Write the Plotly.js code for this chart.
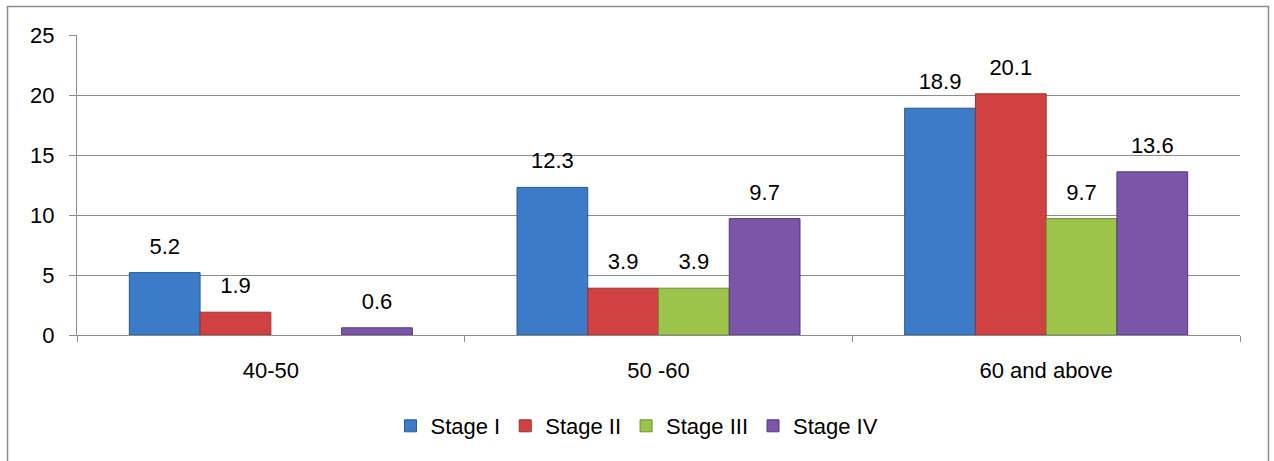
<!DOCTYPE html>
<html>
<head>
<meta charset="utf-8">
<script src="https://cdn.plot.ly/plotly-3.0.1.min.js"></script>
<style>
html,body{margin:0;padding:0;background:#fff;}
#chart{width:1274px;height:461px;}
</style>
</head>
<body>
<div id="chart"></div>
<script>
const categories = ["40-50", "50 -60", "60 and above"];
const seriesNames = ["Stage I", "Stage II", "Stage III", "Stage IV"];
const stage1 = [5.2, 12.3, 18.9];
const stage2 = [1.9, 3.9, 20.1];
const stage3 = [null, 3.9, 9.7];
const stage4 = [0.6, 9.7, 13.6];
const yTicks = [0, 5, 10, 15, 20, 25];

const fills = ["#3b7bc8", "#d04242", "#9cc44a", "#7a55a8"];
const lines = ["#2b5a95", "#983030", "#6e8f34", "#543a78"];
const allSeries = [stage1, stage2, stage3, stage4];

const font = "Liberation Sans, Arial, sans-serif";
const fs = 22;

const barTraces = allSeries.map((vals, i) => ({
  type: "bar",
  name: seriesNames[i],
  x: categories,
  y: vals,
  offsetgroup: String(i),
  marker: {color: fills[i], line: {color: lines[i], width: 1}},
  hoverinfo: "skip"
}));

const labelTraces = allSeries.map((vals, i) => ({
  type: "scatter",
  mode: "markers+text",
  showlegend: false,
  x: categories,
  y: vals,
  offsetgroup: String(i),
  text: vals.map(v => v === null ? "" : v.toFixed(1)),
  textposition: "top center",
  cliponaxis: false,
  textfont: {family: font, size: fs, color: "#000"},
  marker: {size: 20, opacity: 0},
  hoverinfo: "skip"
}));

const W = 1274, H = 461, L = 77, R = 34, T = 35, B = 126;
const pw = W - L - R, ph = H - T - B;
const px = x => (x - L) / pw;
const py = y => (H - B - y) / ph;

const layout = {
  width: W, height: H,
  margin: {l: L, r: R, t: T, b: B, pad: 0},
  paper_bgcolor: "#fff",
  plot_bgcolor: "#fff",
  barmode: "group",
  bargap: 0.27,
  bargroupgap: 0,
  scattermode: "group",
  scattergap: 0.27,
  showlegend: true,
  legend: {
    orientation: "h", x: px(637), xanchor: "center", y: py(426), yanchor: "middle",
    font: {family: font, size: fs, color: "#000"},
    itemwidth: 30, traceorder: "normal"
  },
  xaxis: {
    type: "category",
    tickson: "boundaries",
    ticks: "outside", ticklen: 6, tickcolor: "#8c8c8c", tickwidth: 1,
    showline: true, linecolor: "#8c8c8c", linewidth: 1,
    showgrid: false, zeroline: false,
    tickfont: {family: font, size: fs, color: "#000"},
    ticklabelstandoff: 16
  },
  yaxis: {
    range: [0, 25],
    tickvals: yTicks,
    ticks: "outside", ticklen: 7, tickcolor: "#8c8c8c",
    showline: true, linecolor: "#8c8c8c", linewidth: 1,
    showgrid: true, gridcolor: "#8c8c8c", gridwidth: 1,
    zeroline: false,
    tickfont: {family: font, size: fs, color: "#000"},
    ticklabelstandoff: 10
  },
  shapes: [
    {type: "path", xref: "paper", yref: "paper",
     path: `M ${px(7.5)} ${py(470)} L ${px(7.5)} ${py(6.5)} L ${px(1268.5)} ${py(6.5)} L ${px(1268.5)} ${py(470)}`,
     line: {color: "#8c8c8c", width: 1.5}}
  ]
};

Plotly.newPlot("chart", barTraces.concat(labelTraces), layout, {displayModeBar: false, staticPlot: true});
</script>
</body>
</html>
